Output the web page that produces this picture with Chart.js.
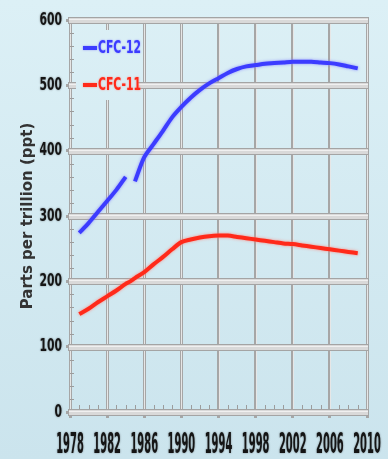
<!DOCTYPE html>
<html>
<head>
<meta charset="utf-8">
<script src="https://cdn.jsdelivr.net/npm/chart.js@4.4.0/dist/chart.umd.min.js"></script>
<style>
  html, body { margin: 0; padding: 0; }
  body { width: 388px; height: 459px; overflow: hidden; background: linear-gradient(#dcf0f6, #cbe4ed); }
</style>
</head>
<body>
<canvas id="myChart" width="388" height="459"></canvas>
<script>
// data
const years = [1979, 1980, 1981, 1982, 1983, 1984, 1984.5, 1985, 1986, 1987, 1988, 1989, 1990,
  1991, 1992, 1993, 1994, 1995, 1996, 1997, 1998, 1999, 2000, 2001, 2002, 2003, 2004, 2005,
  2006, 2007, 2008, 2009];
const cfc12 = [274, 289, 306, 323, 340, 360, null, 353, 390, 410, 430, 451, 467,
  481, 493, 503, 511, 519, 525, 529, 531, 533, 534, 535, 536, 536, 536, 535,
  534, 532, 529, 526];
const cfc11 = [150, 158, 168, 177, 186, 196, 200, 205, 214, 226, 237, 249, 260,
  264, 267, 269, 270, 270, 268, 266, 264, 262, 260, 258, 257, 255, 253, 251,
  249, 247, 245, 243];
const seriesNames = ['CFC-12', 'CFC-11'];
const seriesColors = ['#3c3cff', '#ff2a1a'];
const glowColors = ['rgba(130,130,255,0.9)', 'rgba(255,130,120,0.9)'];

const labelFont = '"Liberation Sans Narrow", "DejaVu Sans Condensed", "Roboto", sans-serif';

function toPoints(vals) {
  return years.map((y, i) => ({ x: y, y: vals[i] }));
}

// grid bands, minor ticks, legend box and stretched labels
const decor = {
  id: 'decor',
  beforeDatasetsDraw(chart) {
    const ctx = chart.ctx;
    const a = chart.chartArea;
    const xs = chart.scales.x, ys = chart.scales.y;
    ctx.save();
    // vertical highlights
    xs.ticks.forEach(t => {
      const px = Math.round(xs.getPixelForValue(t.value)) + 0.5;
      ctx.strokeStyle = '#e6e6e6';
      ctx.lineWidth = 1;
      ctx.beginPath(); ctx.moveTo(px, a.top); ctx.lineTo(px, a.bottom); ctx.stroke();
    });
    // horizontal bands over the verticals
    ys.ticks.forEach(t => {
      const py = Math.round(ys.getPixelForValue(t.value));
      ctx.fillStyle = '#a4a4a4';
      ctx.fillRect(a.left - 2, py - 3, a.right - a.left + 4, 7);
      ctx.fillStyle = '#d9d9d9';
      ctx.fillRect(a.left - 1, py - 2, a.right - a.left + 2, 5);
      ctx.fillStyle = '#f0f0f0';
      ctx.fillRect(a.left - 1, py - 1, a.right - a.left + 2, 1);
    });
    // minor ticks on x axis
    ctx.strokeStyle = '#9c9c9c';
    ctx.lineWidth = 1;
    for (let yr = xs.min + 1; yr < xs.max; yr++) {
      if (yr % 4 === 2) continue;
      const px = Math.round(xs.getPixelForValue(yr)) + 0.5;
      ctx.beginPath(); ctx.moveTo(px, a.bottom - 7); ctx.lineTo(px, a.bottom - 3); ctx.stroke();
    }
    // minor ticks on y axis
    for (let v = ys.min + 20; v < ys.max; v += 20) {
      if (v % 100 === 0) continue;
      const py = Math.round(ys.getPixelForValue(v)) + 0.5;
      ctx.beginPath(); ctx.moveTo(a.left, py); ctx.lineTo(a.left + 4, py); ctx.stroke();
    }
    // legend box
    const g = ctx.createLinearGradient(0, 0, 0, chart.height);
    g.addColorStop(0, '#dcf0f6');
    g.addColorStop(1, '#cbe4ed');
    ctx.fillStyle = g;
    ctx.fillRect(a.left + 6, a.top + 10, 62, 70);
    chart.data.datasets.forEach((ds, i) => {
      const ly = a.top + 28 + i * 37;
      ctx.strokeStyle = ds.borderColor;
      ctx.lineWidth = 4;
      ctx.shadowColor = glowColors[i];
      ctx.shadowBlur = 2;
      ctx.beginPath(); ctx.moveTo(a.left + 13, ly); ctx.lineTo(a.left + 27, ly); ctx.stroke();
      ctx.save();
      ctx.translate(a.left + 28, ly);
      ctx.scale(1, 1.5);
      ctx.font = 'bold 12px ' + labelFont;
      ctx.fillStyle = ds.borderColor;
      ctx.textBaseline = 'middle';
      ctx.fillText(ds.label, 0, 0);
      ctx.restore();
    });
    ctx.restore();
  },
  beforeDatasetDraw(chart, args) {
    const ctx = chart.ctx;
    ctx.save();
    ctx.shadowColor = glowColors[args.index];
    ctx.shadowBlur = 3;
  },
  afterDatasetDraw(chart) {
    chart.ctx.restore();
  },
  afterDraw(chart) {
    const ctx = chart.ctx;
    const a = chart.chartArea;
    const xs = chart.scales.x, ys = chart.scales.y;
    ctx.save();
    ctx.fillStyle = '#151515';
    ctx.shadowColor = 'rgba(0,0,0,0.45)';
    ctx.shadowBlur = 2;
    ctx.font = 'bold 12px ' + labelFont;
    ctx.textBaseline = 'middle';
    ctx.textAlign = 'right';
    ys.ticks.forEach(t => {
      ctx.save();
      ctx.translate(a.left - 8, ys.getPixelForValue(t.value));
      ctx.scale(1, 1.5);
      ctx.fillText(t.label, 0, 0);
      ctx.restore();
    });
    ctx.textAlign = 'center';
    ctx.font = 'bold 11px ' + labelFont;
    xs.ticks.forEach(t => {
      ctx.save();
      ctx.translate(xs.getPixelForValue(t.value), a.bottom + 34);
      ctx.scale(1, 2.6);
      ctx.fillText(t.label, 0, 0);
      ctx.restore();
    });
    ctx.restore();
  }
};

const data = {
  datasets: [
    {
      label: seriesNames[0],
      data: toPoints(cfc12),
      borderColor: seriesColors[0],
      borderWidth: 4,
      pointRadius: 0,
      tension: 0.3,
      spanGaps: false
    },
    {
      label: seriesNames[1],
      data: toPoints(cfc11),
      borderColor: seriesColors[1],
      borderWidth: 4,
      pointRadius: 0,
      tension: 0.3,
      spanGaps: false
    }
  ]
};

const config = {
  type: 'line',
  data,
  options: {
    responsive: false,
    animation: false,
    devicePixelRatio: 1,
    layout: { padding: { top: 20, right: 21, bottom: 0, left: 0 } },
    plugins: { legend: { display: false }, tooltip: { enabled: false } },
    scales: {
      x: {
        type: 'linear',
        min: 1978,
        max: 2010,
        afterFit(scale) { scale.height = 47; },
        ticks: { stepSize: 4, color: 'rgba(0,0,0,0)', callback: v => String(v), maxRotation: 0 },
        grid: { color: '#a6a6a6', lineWidth: 3, tickLength: 6 },
        border: { display: false }
      },
      y: {
        min: 0,
        max: 600,
        afterFit(scale) { scale.width = 70; },
        ticks: { stepSize: 100, color: 'rgba(0,0,0,0)' },
        grid: { color: '#a6a6a6', lineWidth: 3, tickLength: 4 },
        border: { display: false },
        title: {
          display: true,
          text: 'Parts per trillion (ppt)',
          color: '#333333',
          font: { family: '"DejaVu Sans"', size: 15, weight: 'bold' },
          padding: { top: 19, bottom: 0 }
        }
      }
    }
  },
  plugins: [decor]
};

const myChart = new Chart(document.getElementById('myChart'), config);
</script>
</body>
</html>
